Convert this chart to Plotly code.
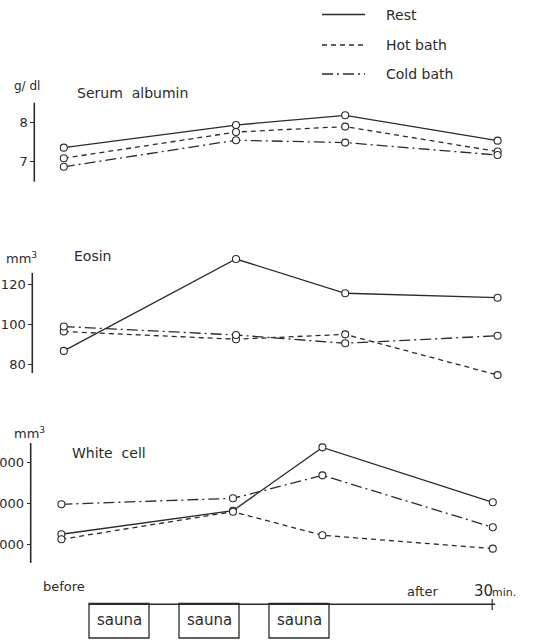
import plotly.graph_objects as go

W, H = 553, 640

# ---------------- data ----------------
series = ["Rest", "Hot bath", "Cold bath"]
# time points (minutes from start of first sauna)
t_main = [-4.2, 24.5, 42.7, 68.1]
t_white = [-4.6, 24.0, 38.9, 67.3]

albumin = {
    "Rest":      [7.36, 7.94, 8.19, 7.54],
    "Hot bath":  [7.09, 7.76, 7.90, 7.26],
    "Cold bath": [6.87, 7.55, 7.49, 7.17],
}
eosin = {
    "Rest":      [86.9, 132.5, 115.5, 113.3],
    "Hot bath":  [96.5, 92.7, 95.1, 74.9],
    "Cold bath": [99.0, 94.8, 90.7, 94.4],
}
white = {
    "Rest":      [5252, 5825, 7366, 6029],
    "Hot bath":  [5130, 5801, 5227, 4902],
    "Cold bath": [5981, 6126, 6685, 5422],
}

alb_ticks = [7, 8]
eos_ticks = [80, 100, 120]
wbc_ticks = [5000, 6000, 7000]

sauna_periods = [(0, 10), (15, 25), (30, 40)]
axis_end = 67.7
after_tick = 67.2

dashes = {"Rest": "solid", "Hot bath": "5px,4px", "Cold bath": "11px,4px,2px,4px"}
INK = "#2b2b2b"
FONT = "DejaVu Sans"

def px_x(p):
    return p / W

def px_y(p):
    return 1 - p / H

def axis_range(v_a, p_a, v_b, p_b, p_top, p_bot):
    # linear map value<->pixel, return range for domain pixel [p_top, p_bot]
    k = (v_a - v_b) / (p_a - p_b)
    return [v_a + k * (p_bot - p_a), v_a + k * (p_top - p_a)]

fig = go.Figure()

panels = [
    (albumin, t_main, "y"),
    (eosin, t_main, "y2"),
    (white, t_white, "y3"),
]
for data, tt, ya in panels:
    for s in series:
        fig.add_trace(go.Scatter(
            x=tt, y=data[s], yaxis=ya, mode="lines+markers",
            line=dict(color=INK, width=1.3, dash=dashes[s]),
            marker=dict(symbol="circle", size=7, color="white",
                        line=dict(color=INK, width=1.1)),
            cliponaxis=False, showlegend=False, name=s,
        ))

x0 = -89 / 6
x1 = (W - 89) / 6

yaxis_common = dict(
    showgrid=False, zeroline=False, showline=False, automargin=False,
    ticks="outside", ticklen=4, tickwidth=1, tickcolor=INK,
    tickfont=dict(family=FONT, size=13, color=INK), anchor="free",
)

# panel geometry (pixel domain, axis calibration, axis-line extent, x position)
alb_dom = (90, 195)
eos_dom = (245, 390)
wbc_dom = (430, 570)
r1 = axis_range(7, 161.7, 8, 122.7, *alb_dom)
r2 = axis_range(100, 324.5, 80, 364.8, *eos_dom)
r3 = axis_range(6000, 503.5, 7000, 462.4, *wbc_dom)

fig.update_layout(
    width=W, height=H, margin=dict(l=0, r=0, t=0, b=0, autoexpand=False),
    paper_bgcolor="white", plot_bgcolor="rgba(0,0,0,0)",
    xaxis=dict(range=[x0, x1], domain=[0, 1], visible=False, automargin=False),
    yaxis=dict(domain=[px_y(alb_dom[1]), px_y(alb_dom[0])], range=r1,
               tickvals=alb_ticks, position=px_x(34.3), **yaxis_common),
    yaxis2=dict(domain=[px_y(eos_dom[1]), px_y(eos_dom[0])], range=r2,
                tickvals=eos_ticks, position=px_x(32.3), **yaxis_common),
    yaxis3=dict(domain=[px_y(wbc_dom[1]), px_y(wbc_dom[0])], range=r3,
                tickvals=wbc_ticks, tickformat="d", position=px_x(30.7), **yaxis_common),
    font=dict(family=FONT, color=INK),
    hovermode=False,
)

# vertical axis lines (drawn in data units of each axis)
axis_lines = [("y", 34.3, 6.487, 8.513), ("y2", 32.3, 75.9, 125.6), ("y3", 30.7, 4554, 7470)]
for yref, xp, lo, hi in axis_lines:
    fig.add_shape(type="line", xref="paper", yref=yref, x0=px_x(xp), x1=px_x(xp),
                  y0=lo, y1=hi, line=dict(color=INK, width=1.6))

ann = []
def text(x, y, s, size=14, xanchor="left", xref="paper"):
    ann.append(dict(x=x, y=y, xref=xref, yref="paper", text=s, showarrow=False,
                    xanchor=xanchor, yanchor="middle",
                    font=dict(family=FONT, size=size, color=INK)))

# panel titles & units
text(px_x(12), px_y(86), "g/ dl", 12)
text(px_x(75), px_y(93), "Serum  albumin", 14)
text(px_x(4), px_y(258), "mm<sup>3</sup>", 13)
text(px_x(72), px_y(256), "Eosin", 14)
text(px_x(12), px_y(433), "mm<sup>3</sup>", 13)
text(px_x(70), px_y(453), "White  cell", 14)

# legend
legend_y = [14.5, 45, 74]
for s, ly in zip(series, legend_y):
    fig.add_shape(type="line", xref="paper", yref="paper",
                  x0=px_x(322), x1=px_x(365), y0=px_y(ly), y1=px_y(ly),
                  line=dict(color=INK, width=1.3, dash=dashes[s]))
    text(px_x(384), px_y(ly), s, 14)

# bottom time axis
ya_line = px_y(604.3)
fig.add_shape(type="line", xref="x", yref="paper", x0=0, x1=axis_end,
              y0=ya_line, y1=ya_line, line=dict(color=INK, width=1.4))
fig.add_shape(type="line", xref="x", yref="paper", x0=after_tick, x1=after_tick,
              y0=px_y(599), y1=px_y(610), line=dict(color=INK, width=1.2))
for a, b in sauna_periods:
    fig.add_shape(type="rect", xref="x", yref="paper", x0=a, x1=b,
                  y0=px_y(638), y1=px_y(603.5), line=dict(color=INK, width=1.3),
                  fillcolor="rgba(0,0,0,0)")
    text((a + b) / 2, px_y(620), "sauna", 15, xanchor="center", xref="x")

text(px_x(41), px_y(586), "before", 13)
text(px_x(405), px_y(591), "after", 13)
text(px_x(472), px_y(591), "30", 15)
text(px_x(490), px_y(592), "min.", 11)

fig.update_layout(annotations=ann)
fig.write_html("out.html", config={"displayModeBar": False, "staticPlot": True},
               post_script="document.body.style.margin='0';")
